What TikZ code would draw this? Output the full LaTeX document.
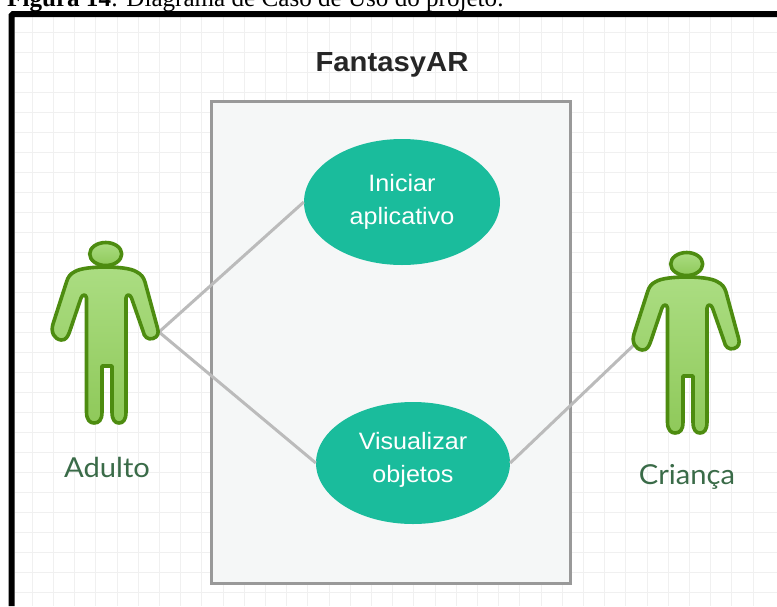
\documentclass[tikz,border=0pt]{standalone}
\usepackage{fontspec}
\setmainfont{Liberation Serif}
\newfontfamily\sanslab[FakeStretch=1.06]{Liberation Sans}
\newfontfamily\actorlab[FakeStretch=1.06]{Lato}
\usetikzlibrary{shapes.geometric}
\definecolor{gridc}{HTML}{F0F0F0}
\definecolor{sysedge}{HTML}{999999}
\definecolor{sysfill}{HTML}{F5F7F7}
\definecolor{usecase}{HTML}{1ABC9C}
\definecolor{link}{HTML}{BBBBBB}
\definecolor{actedge}{HTML}{4D8C10}
\definecolor{acttop}{HTML}{ABDD82}
\definecolor{actbot}{HTML}{8FC95A}
\definecolor{labc}{HTML}{3A6B48}
\tikzset{
  x=1pt,y=-1pt,
  gridline/.style={gridc,line width=0.9pt},
  usecasenode/.style={ellipse,fill=usecase,text=white,inner sep=0pt,align=center,
    font=\sanslab\fontsize{23.7}{33}\selectfont},
  linkline/.style={link,line width=3pt},
  actorshape/.style={draw=actedge,line width=3.6pt,top color=acttop,bottom color=actbot,line join=round},
  actorlabel/.style={text=labc,font=\actorlab\fontsize{27.5}{30}\selectfont,inner sep=0pt},
}
\newcommand{\actorfig}[2]{%
  \begin{scope}[shift={(#1,#2)}]
    \path[actorshape]
      (75.7,37) .. controls (62,37) and (50,38.5) .. (45,41.5)
      .. controls (40,44) and (38,47) .. (36.5,52)
      -- (23,94)
      .. controls (20.5,102) and (24,109) .. (31,110)
      .. controls (36,110.5) and (38,106) .. (39.5,102)
      -- (51,68)
      .. controls (52.5,64) and (56,64) .. (56.5,68)
      -- (56.5,182)
      .. controls (56.5,190) and (60,193) .. (64,193)
      .. controls (69,193) and (72,190) .. (72,182)
      -- (72,136) -- (82,136) -- (82,182)
      .. controls (82,190) and (85,193) .. (89,193)
      .. controls (93,193) and (96,190) .. (96,182)
      -- (96,68)
      .. controls (96.5,64) and (100,64) .. (101.5,68)
      -- (113,101)
      .. controls (114,107) and (118,110) .. (123,108.5)
      .. controls (128,107) and (129,103) .. (127.5,98)
      -- (115,52)
      .. controls (113.5,47) and (111,44) .. (106,41.5)
      .. controls (101,38.5) and (89,37) .. (75.7,37) -- cycle;
    \path[actorshape] (75.7,24) ellipse [x radius=16,y radius=11.5];
  \end{scope}}
\begin{document}
\begin{tikzpicture}
\useasboundingbox (0,0) rectangle (777,606);
\begin{scope}
\clip (0,0) rectangle (777,606);
\fill[white] (0,0) rectangle (777,606);
\foreach \k in {0,...,35} \draw[gridline] ({11.1+21.2*\k},17) -- ({11.1+21.2*\k},606);
\foreach \k in {0,...,30} \draw[gridline] (15,{32.3+20*\k}) -- (777,{32.3+20*\k});
\draw[black,line width=6pt,rounded corners=1.5pt] (11.5,606) -- (11.5,14) -- (777,14);
\node[anchor=base west,inner sep=0pt,font=\fontsize{25.1}{28}\selectfont] (cap) at (7,6) {\textbf{Figura 14}: Diagrama de Caso de Uso do projeto.};
\end{scope}
\node[draw=sysedge,fill=sysfill,line width=3pt,minimum width=358.5pt,minimum height=481.5pt,inner sep=0pt,anchor=north west] (sys) at (210,100) {};
\node[font=\sanslab\bfseries\fontsize{27.6}{30}\selectfont,text=black!85,inner sep=0pt] (title) at (392,65) {FantasyAR};
\node[usecasenode,minimum width=196pt,minimum height=126pt] (uc1) at (402,202) {Iniciar\\aplicativo};
\node[usecasenode,minimum width=194pt,minimum height=122pt] (uc2) at (413,463) {Visualizar\\objetos\rule[-12pt]{0pt}{12pt}};
\coordinate (adult) at (159,332);
\coordinate (child) at (637,342);
\draw[linkline] (adult) -- (uc1.west);
\draw[linkline] (adult) -- (uc2.west);
\draw[linkline] (child) -- (uc2.east);
\actorfig{30}{230}
\actorfig{611}{240}
\node[actorlabel] (adl) at (107,467) {Adulto};
\node[actorlabel] (chl) at (687,477) {Criança};
\end{tikzpicture}
\end{document}
